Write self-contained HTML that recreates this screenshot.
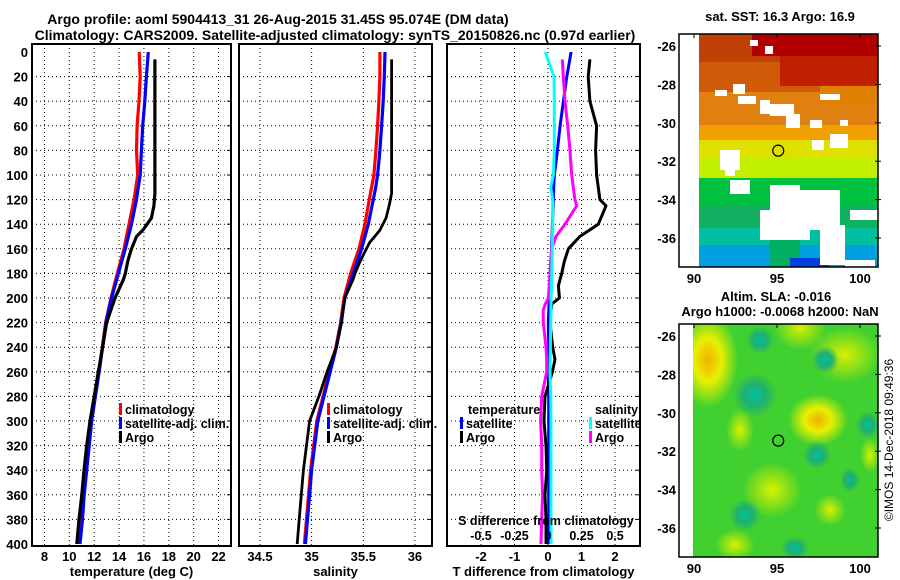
<!DOCTYPE html>
<html><head><meta charset="utf-8">
<style>
html,body{margin:0;padding:0;background:#fff;}
svg{display:block;font-family:"Liberation Sans",Arial,sans-serif;font-weight:bold;}
</style></head>
<body>
<svg id="c" width="900" height="580" viewBox="0 0 900 580">
<defs>
<radialGradient id="gy"><stop offset="0" stop-color="#f0b000"/><stop offset="0.45" stop-color="#e8f000"/><stop offset="1" stop-color="#e8f000" stop-opacity="0"/></radialGradient>
<radialGradient id="gl"><stop offset="0" stop-color="#d8f000"/><stop offset="1" stop-color="#d8f000" stop-opacity="0"/></radialGradient>
<radialGradient id="gt"><stop offset="0" stop-color="#00c0a0"/><stop offset="0.5" stop-color="#20b070"/><stop offset="1" stop-color="#20b070" stop-opacity="0"/></radialGradient>
</defs>
<text x="278" y="24" font-size="14" text-anchor="middle">Argo profile: aoml 5904413_31 26-Aug-2015 31.45S 95.074E (DM data)</text>
<text x="335" y="40" font-size="14" text-anchor="middle">Climatology: CARS2009. Satellite-adjusted climatology: synTS_20150826.nc (0.97d earlier)</text>
<g id="maps"></g>
<g id="plots"></g>
</svg>
<script>
// ---------- data ----------
const depthTicks=[0,20,40,60,80,100,120,140,160,180,200,220,240,260,280,300,320,340,360,380,400];
const tempTicks=[8,10,12,14,16,18,20,22];
const salTicks=[34.5,35,35.5,36];
const dTTicks=[-2,-1,0,1,2];
const dSTickLabels=["-0.5","-0.25","0","0.25","0.5"];
const dSTicks=[-0.5,-0.25,0,0.25,0.5];

const climDepth=[0,20,40,60,80,100,110,120,140,160,180,200,220,240,260,280,300,320,340,360,380,400];
const climTemp=[15.62,15.7,15.6,15.45,15.4,15.5,15.35,15.2,14.8,14.4,13.86,13.35,12.92,12.65,12.38,12.08,11.78,11.58,11.38,11.18,11.03,10.84];
const satTemp=[16.35,16.2,16.07,15.9,15.8,15.7,15.55,15.4,15.0,14.5,13.95,13.4,12.95,12.68,12.4,12.1,11.8,11.6,11.4,11.2,11.06,10.86];
const climSal=[35.661,35.661,35.651,35.638,35.622,35.603,35.58,35.558,35.516,35.458,35.377,35.313,35.28,35.235,35.17,35.11,35.05,35.02,34.99,34.97,34.95,34.93];
const satSal=[35.71,35.703,35.693,35.677,35.661,35.638,35.62,35.597,35.548,35.484,35.403,35.322,35.285,35.24,35.18,35.12,35.06,35.03,35.0,34.98,34.96,34.94];

const argoDepth=[6,40,115,125,135,145,150,155,160,165,170,180,185,200,220,240,260,280,300,320,340,360,380,400];
const argoTemp=[16.88,16.88,16.88,16.8,16.6,15.9,15.4,15.2,15.0,14.85,14.7,14.5,14.35,13.67,13.0,12.68,12.33,12.0,11.66,11.4,11.18,11.0,10.78,10.6];
const argoSal=[35.774,35.774,35.774,35.75,35.72,35.66,35.61,35.56,35.53,35.5,35.47,35.42,35.4,35.32,35.29,35.24,35.15,35.07,34.98,34.95,34.92,34.9,34.88,34.86];

const dDepth=[0,20,40,60,80,100,110,120,140,160,180,200,220,240,260,280,300,320,340,360,380,400];
const satDT=[0.69,0.56,0.46,0.36,0.28,0.19,0.17,0.16,0.13,0.11,0.08,0.04,0.01,0.02,0.01,0.02,0.02,0.02,0.02,0.02,0.02,0.02];
const satDS=[-0.02,0.045,0.047,0.047,0.047,0.04,0.02,0.035,0.035,0.033,0.028,0.023,0.02,0.018,0.015,0.02,0.022,0.022,0.022,0.022,0.022,0.022];
const argoDDepth=[6,20,40,60,80,100,120,125,140,150,160,170,180,190,200,205,210,220,240,250,260,280,300,320,340,360,380,400];
const argoDT=[1.25,1.2,1.25,1.45,1.42,1.45,1.55,1.73,1.5,0.95,0.61,0.49,0.41,0.31,0.34,0.11,0.09,0.06,0.14,0.21,0.13,-0.09,-0.12,-0.06,-0.04,-0.09,-0.06,-0.06];
const argoDS=[0.107,0.114,0.127,0.147,0.164,0.177,0.201,0.214,0.127,0.06,0.027,0.02,0.015,0.01,0.002,-0.02,-0.036,-0.035,-0.015,-0.01,-0.01,-0.047,-0.055,-0.047,-0.047,-0.04,-0.047,-0.052];

// ---------- helpers ----------
const NS="http://www.w3.org/2000/svg";
function mk(tag,attrs,parent){const e=document.createElementNS(NS,tag);for(const k in attrs)e.setAttribute(k,attrs[k]);parent.appendChild(e);return e;}
const plots=document.getElementById('plots');
const Y0=52,Y1=544,YT=44,YB=546;
function yD(d){return Y0+(d/400)*(Y1-Y0);}

function panel(name,x0,x1,vmin,vmax,ticks,tickLabels,xTitle,showY){
  const g=mk('g',{},plots);
  
  
  const sx=v=>x0+(v-vmin)/(vmax-vmin)*(x1-x0);
  // grid
  ticks.forEach(t=>{const gl=mk('line',{x1:sx(t),x2:sx(t),y1:YT,y2:YB,stroke:'#000','stroke-width':1,'stroke-dasharray':'1,3'},g);
    });
  depthTicks.forEach(d=>{if(d===0||d===400)return;const gl=mk('line',{x1:x0,x2:x1,y1:yD(d),y2:yD(d),stroke:'#000','stroke-width':1,'stroke-dasharray':'1,3'},g);
    
    const tk=mk('line',{x1:x1-4,x2:x1,y1:yD(d),y2:yD(d),stroke:'#000'},g);});
  const fr=mk('rect',{x:x0,y:YT,width:x1-x0,height:YB-YT,fill:'none',stroke:'#000','stroke-width':2},g);
  
  ticks.forEach((t,i)=>{const tx=mk('text',{x:sx(t),y:561,'font-size':13,'text-anchor':'middle'},g);tx.textContent=tickLabels[i];
    });
  const tt=mk('text',{x:(x0+x1)/2,y:576,'font-size':13,'text-anchor':'middle'},g);tt.textContent=xTitle;
  
  if(showY){depthTicks.forEach(d=>{const tx=mk('text',{x:28,y:yD(d)+5,'font-size':13,'text-anchor':'end'},g);tx.textContent=d;
    });}
  return {g,sx};
}
function line(p,depths,vals,color,w,name){
  const pts=depths.map((d,i)=>p.sx(vals[i]).toFixed(1)+','+yD(d).toFixed(1)).join(' ');
  const pl=mk('polyline',{points:pts,fill:'none',stroke:color,'stroke-width':w,'stroke-linejoin':'round'},p.g);
  
  
}
function legend(g,x,y,color,label,name){
  const r=mk('rect',{x:x,y:y-11,width:3,height:12,fill:color},g);
  
  if(label){const t=mk('text',{x:x+6,y:y,'font-size':12.5},g);t.textContent=label;
  }
}

// panel 1
const p1=panel('temperature-panel',32,231,7,23,tempTicks,tempTicks.map(String),'temperature (deg C)',true);
line(p1,climDepth,climTemp,'#f00',3.2,'climatology-temp-line');
line(p1,climDepth,satTemp,'#00f',3.2,'satellite-temp-line');
line(p1,argoDepth,argoTemp,'#000',3.2,'argo-temp-line');
legend(p1.g,119,414,'#f00','climatology','legend-climatology');
legend(p1.g,119,428,'#00f','satellite-adj. clim.','legend-satellite');
legend(p1.g,119,442,'#000','Argo','legend-argo');

// panel 2
const p2=panel('salinity-panel',239,432,34.297,36.165,salTicks,salTicks.map(String),'salinity',false);
line(p2,climDepth,climSal,'#f00',3.2,'climatology-sal-line');
line(p2,climDepth,satSal,'#00f',3.2,'satellite-sal-line');
line(p2,argoDepth,argoSal,'#000',2.8,'argo-sal-line');
legend(p2.g,327,414,'#f00','climatology','legend-climatology');
legend(p2.g,327,428,'#00f','satellite-adj. clim.','legend-satellite');
legend(p2.g,327,442,'#000','Argo','legend-argo');

// panel 3 (T scale; S = T/4)
const p3=panel('difference-panel',447,640,-3.015,2.746,dTTicks,dTTicks.map(String),'T difference from climatology',false);
const pS={g:p3.g,sx:v=>p3.sx(v*4)};
line(p3,dDepth,satDT,'#00f',3,'satellite-dT-line');
line(pS,argoDDepth,argoDS,'#f0f',3,'argo-dS-line');
line(p3,argoDDepth,argoDT,'#000',3,'argo-dT-line');
line(pS,dDepth,satDS,'#0ff',3,'satellite-dS-line');
{const t=mk('text',{x:468,y:414,'font-size':12.5},p3.g);t.textContent='temperature';}
legend(p3.g,460,428,'#00f','satellite','legend-temp-satellite');
legend(p3.g,460,442,'#000','Argo','legend-temp-argo');
{const t=mk('text',{x:595,y:414,'font-size':12.5},p3.g);t.textContent='salinity';}
legend(p3.g,589,428,'#0ff','satellite','legend-sal-satellite');
legend(p3.g,589,442,'#f0f','Argo','legend-sal-argo');
{const t=mk('text',{x:546,y:525,'font-size':12.5,'text-anchor':'middle'},p3.g);t.textContent='S difference from climatology';}
dSTicks.forEach((s,i)=>{const t=mk('text',{x:pS.sx(s),y:540,'font-size':12.5,'text-anchor':'middle'},p3.g);t.textContent=dSTickLabels[i];
  });

// ---------- maps ----------
const maps=document.getElementById('maps');
const latTicks=[-26,-28,-30,-32,-34,-36];
const lonTicks=[90,95,100];
function mapFrame(name,top,title1,title2){
  const g=mk('g',{},maps);
  
  
  const lx=l=>694+(l-90)*16.6, ly=la=>top+12+(-26-la)*19.2;
  return {g,lx,ly,top};
}
// map1 SST
const m1=mapFrame('sst-map',34);
{const g=m1.g;
 const cp=mk('clipPath',{id:'cp1'},g);mk('rect',{x:693,y:34,width:185,height:233},cp);
 const c=mk('g',{'clip-path':'url(#cp1)'},g);
 const bands=[[34,'#c04008'],[62,'#d05a08'],[92,'#e08010'],[125,'#f0a000'],[140,'#e0e000'],[158,'#c0f000'],[178,'#00c040'],[205,'#10b060'],[228,'#00c0a0'],[245,'#00a0e0']];
 bands.forEach((b,i)=>{const r=mk('rect',{x:693,y:b[0],width:185,height:(i<bands.length-1?bands[i+1][0]:267)-b[0],fill:b[1]},c);});
 [[752,34,126,22,'#b00000'],[780,56,98,30,'#c02000'],[820,86,58,20,'#e08000'],[770,228,30,39,'#00b060'],[790,258,40,9,'#0040e0']].forEach(a=>{const r=mk('rect',{x:a[0],y:a[1],width:a[2],height:a[3],fill:a[4]},c);});
 const holes=[[693,34,6,233],[750,40,8,6],[765,46,8,8],[733,84,12,10],[738,96,18,8],[715,90,12,6],[760,100,10,14],[770,104,24,12],[786,114,14,14],[820,94,20,6],[810,120,12,8],[840,120,8,6],[830,134,18,14],[812,140,12,10],[720,150,20,20],[725,170,10,6],[770,185,30,30],[800,190,40,40],[760,210,50,30],[820,225,25,40],[850,210,28,10],[730,180,20,14],[845,260,30,7],[690,240,8,20]];
 holes.forEach(h=>{const r=mk('rect',{x:h[0],y:h[1],width:h[2],height:h[3],fill:'#fff'},c);});
 const fr=mk('rect',{x:679,y:34,width:199,height:233,fill:'none',stroke:'#000','stroke-width':1.5},g);
 const t=mk('text',{x:780,y:21,'font-size':13,'text-anchor':'middle'},g);t.textContent='sat. SST: 16.3 Argo: 16.9';
}
// map2 SLA
const m2=mapFrame('sla-map',324);
{const g=m2.g;
 const cp=mk('clipPath',{id:'cp2'},g);mk('rect',{x:693,y:324,width:185,height:233},cp);
 const c=mk('g',{'clip-path':'url(#cp2)'},g);
 mk('rect',{x:693,y:324,width:185,height:233,fill:'#40d030'},c);
 [[708,360,30,48,'gy'],[800,328,26,22,'gl'],[845,355,36,28,'gl'],[818,420,30,26,'gy'],[740,430,14,22,'gl'],[772,490,30,28,'gl'],[830,510,16,16,'gl'],[735,545,20,16,'gl'],[870,455,10,18,'gl']].forEach(b=>{const e=mk('ellipse',{cx:b[0],cy:b[1],rx:b[2],ry:b[3],fill:'url(#'+b[4]+')'},c);});
 [[755,395,22,22],[760,340,14,14],[825,360,14,14],[817,455,14,14],[745,515,16,16],[795,548,14,12],[868,425,12,14],[850,480,10,12]].forEach(b=>{const e=mk('ellipse',{cx:b[0],cy:b[1],rx:b[2],ry:b[3],fill:'url(#gt)'},c);});
 const fr=mk('rect',{x:679,y:324,width:199,height:233,fill:'none',stroke:'#000','stroke-width':1.5},g);
 const t1=mk('text',{x:776,y:301,'font-size':13,'text-anchor':'middle'},g);t1.textContent='Altim. SLA: -0.016';
 const t2=mk('text',{x:780,y:316,'font-size':13,'text-anchor':'middle'},g);t2.textContent='Argo h1000: -0.0068 h2000: NaN';
}
[m1,m2].forEach(m=>{
  latTicks.forEach(la=>{const y=m.ly(la);
    const t=mk('text',{x:676,y:y+5,'font-size':13,'text-anchor':'end'},m.g);t.textContent=la;
    
    const tk=mk('line',{x1:875,x2:881,y1:y,y2:y,stroke:'#000'},m.g);});
  lonTicks.forEach(lo=>{const x=m.lx(lo);
    const t=mk('text',{x:x,y:m.top+249,'font-size':13,'text-anchor':'middle'},m.g);t.textContent=lo;
    
    const tk=mk('line',{x1:x,x2:x,y1:m.top,y2:m.top+4,stroke:'#000'},m.g);});
  const ci=mk('circle',{cx:m.lx(95.074),cy:m.ly(-31.45),r:5.5,fill:'none',stroke:'#000','stroke-width':1.2},m.g);
  
});
const stamp=mk('text',{x:0,y:0,'font-size':12,'font-weight':'normal','text-anchor':'middle',transform:'translate(893,440) rotate(-90)'},maps);
stamp.textContent='©IMOS 14-Dec-2018 09:49:36';


</script>
</body></html>
